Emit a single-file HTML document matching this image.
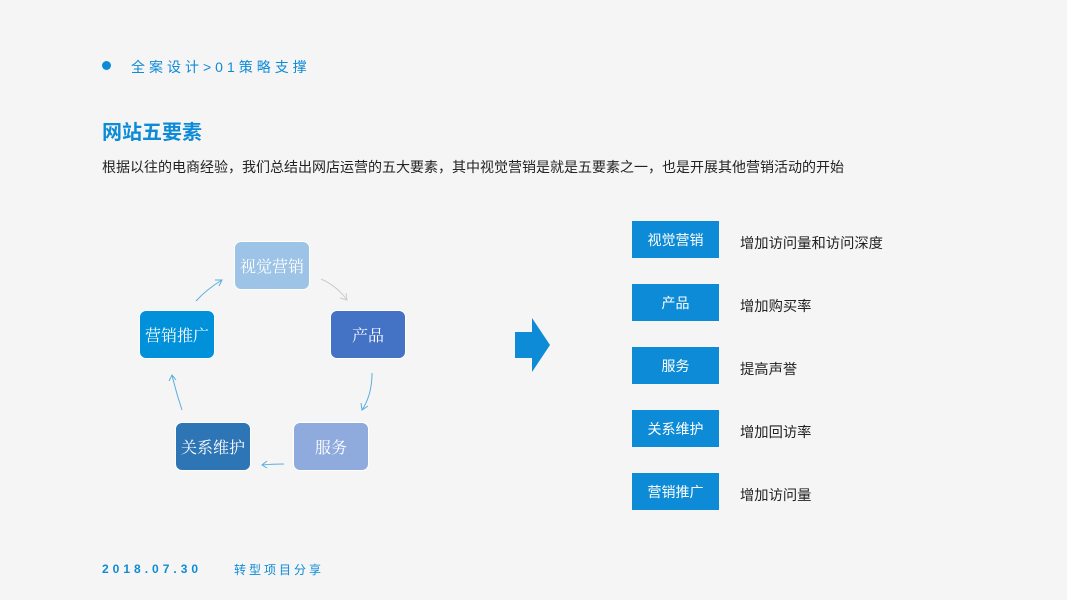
<!DOCTYPE html>
<html><head><meta charset="utf-8"><style>
body{margin:0;width:1067px;height:600px;background:#f5f5f5;position:relative;overflow:hidden;font-family:"Liberation Sans","Noto Sans CJK SC",sans-serif}
.a{position:absolute}
.n{position:absolute;width:76px;height:49px;border-radius:7px;color:#fff;font-family:"Liberation Serif","Noto Serif CJK SC",serif;font-size:16px;display:flex;align-items:center;justify-content:center;box-sizing:border-box;border:1px solid #fff}
.r{position:absolute;left:632px;width:87px;height:37px;background:#0d8bd6;color:#fff;font-size:14px;display:flex;align-items:center;justify-content:center}
.t{position:absolute;left:740px;font-size:14.3px;color:#222}
</style></head><body>
<div class="a" style="left:102px;top:61px;width:9px;height:9px;border-radius:50%;background:#0d8bd6"></div>
<div class="a" style="left:131px;top:57px;font-size:14px;color:#0d8bd6;letter-spacing:4px">全案设计&gt;01策略支撑</div>
<div class="a" style="left:102px;top:116px;font-size:20px;font-weight:bold;color:#0d8bd6">网站五要素</div>
<div class="a" style="left:102px;top:157px;font-size:14px;color:#222">根据以往的电商经验，我们总结出网店运营的五大要素，其中视觉营销是就是五要素之一，也是开展其他营销活动的开始</div>
<div class="n" style="left:234px;top:241px;background:#9dc3e6">视觉营销</div>
<div class="n" style="left:330px;top:310px;background:#4472c4">产品</div>
<div class="n" style="left:293px;top:422px;background:#8faadc">服务</div>
<div class="n" style="left:175px;top:422px;background:#2e75b6">关系维护</div>
<div class="n" style="left:139px;top:310px;background:#0091da">营销推广</div>
<svg class="a" style="left:0;top:0" width="1067" height="600" fill="none" stroke-width="1">
<path d="M321 279 Q337 286 347 300" stroke="#ccc"/><path d="M340 298 L347 300 L346 293" stroke="#ccc"/>
<path d="M372 373 Q372 395 362 410" stroke="#5aaee0"/><path d="M361 403 L362 410 L368 406" stroke="#5aaee0"/>
<path d="M284 464 Q272 464 262 465" stroke="#5aaee0"/><path d="M267 461 L262 465 L267 468" stroke="#5aaee0"/>
<path d="M182 410 Q176 392 172 375" stroke="#5aaee0"/><path d="M169 381 L172 375 L176 380" stroke="#5aaee0"/>
<path d="M196 301 Q207 289 222 280" stroke="#5aaee0"/><path d="M215 280 L222 280 L219 286" stroke="#5aaee0"/>
<path d="M515 332 H532 V318 L550 345 L532 372 V358 H515 Z" fill="#0d8bd6" stroke="none"/>
</svg>
<div class="r" style="top:221px">视觉营销</div><div class="t" style="top:232px">增加访问量和访问深度</div>
<div class="r" style="top:284px">产品</div><div class="t" style="top:295px">增加购买率</div>
<div class="r" style="top:347px">服务</div><div class="t" style="top:358px">提高声誉</div>
<div class="r" style="top:410px">关系维护</div><div class="t" style="top:421px">增加回访率</div>
<div class="r" style="top:473px">营销推广</div><div class="t" style="top:484px">增加访问量</div>
<div class="a" style="left:102px;top:562px;font-size:12px;font-weight:bold;color:#0d8bd6;letter-spacing:4px">2018.07.30</div>
<div class="a" style="left:234px;top:561px;font-size:12px;color:#0d8bd6;letter-spacing:3px">转型项目分享</div>
</body></html>
